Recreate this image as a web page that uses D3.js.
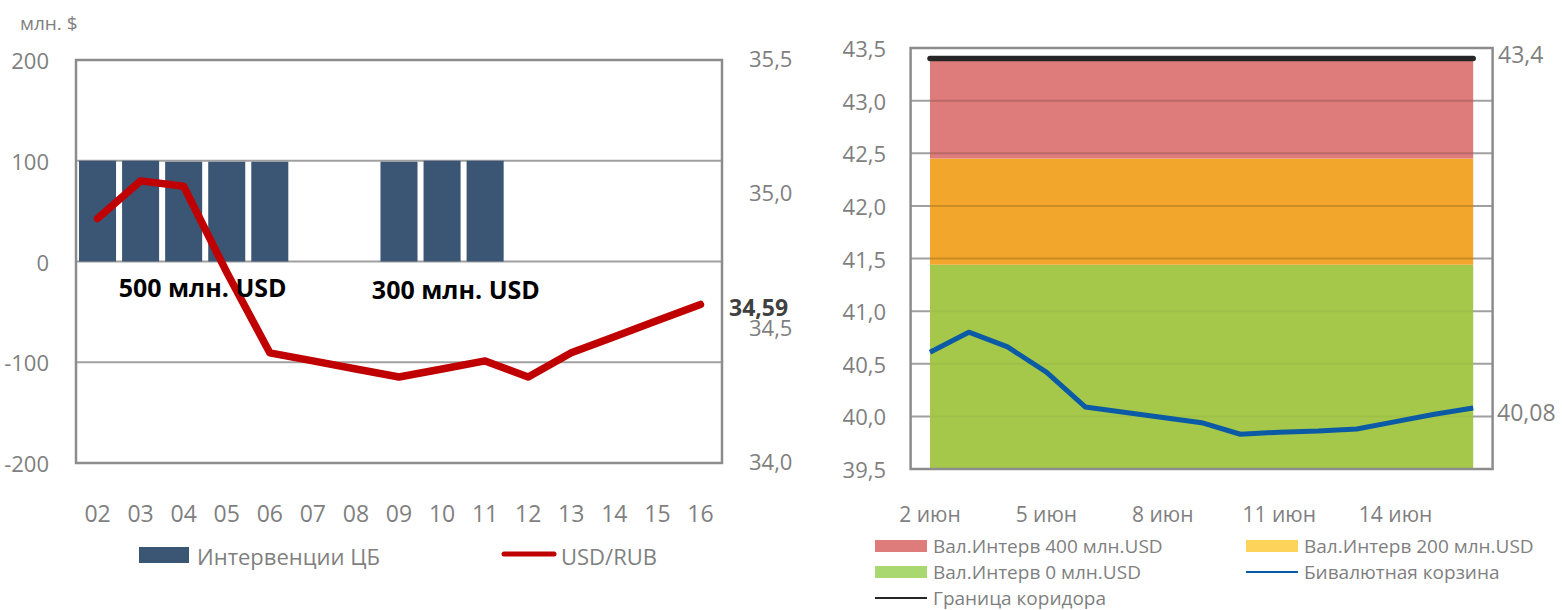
<!DOCTYPE html>
<html>
<head>
    <meta charset="utf-8">
    <title>Интервенции ЦБ и бивалютная корзина</title>
    <script src="https://d3js.org/d3.v7.min.js" charset="utf-8"></script>
    <style>
        html, body { margin: 0; padding: 0; background: #fff; }
        text { font-family: "Open Sans", "Liberation Sans", sans-serif; }
    </style>
</head>
<body>
<script>
    // ---- data: left chart (June, days) ----
    const days = ["02", "03", "04", "05", "06", "07", "08", "09", "10", "11", "12", "13", "14", "15", "16"];
    const interventions = [100, 100, 99, 99, 99, 0, 0, 99, 100, 100, 0, 0, 0, 0, 0];
    const usdRub = [34.91, 35.05, 35.03, 34.71, 34.41, 34.38, 34.35, 34.32, 34.35, 34.38, 34.32, 34.41, 34.47, 34.53, 34.59];
    const leftTicks = [200, 100, 0, -100, -200];
    const rightTicks = [35.5, 35.0, 34.5, 34.0];
    const annotations = ["500 млн. USD", "300 млн. USD"];
    const annotationPos = [2.94, 8.82]; // position of text centre, in bands from the left

    // ---- data: right chart ----
    const dates = ["2 июн", "3 июн", "4 июн", "5 июн", "6 июн", "7 июн", "8 июн", "9 июн", "10 июн", "11 июн", "12 июн", "13 июн", "14 июн", "15 июн", "16 июн"];
    const dateTicks = ["2 июн", "5 июн", "8 июн", "11 июн", "14 июн"];
    const zone0 = [41.44, 41.44, 41.44, 41.44, 41.44, 41.44, 41.44, 41.44, 41.44, 41.44, 41.44, 41.44, 41.44, 41.44, 41.44];
    const zone200 = [42.45, 42.45, 42.45, 42.45, 42.45, 42.45, 42.45, 42.45, 42.45, 42.45, 42.45, 42.45, 42.45, 42.45, 42.45];
    const zone400 = [43.39, 43.39, 43.39, 43.39, 43.39, 43.39, 43.39, 43.39, 43.39, 43.39, 43.39, 43.39, 43.39, 43.39, 43.39];
    const corridor = [43.4, 43.4, 43.4, 43.4, 43.4, 43.4, 43.4, 43.4, 43.4, 43.4, 43.4, 43.4, 43.4, 43.4, 43.4];
    const basket = [40.61, 40.80, 40.66, 40.42, 40.09, 40.04, 39.99, 39.94, 39.83, 39.85, 39.86, 39.88, 39.95, 40.02, 40.08];
    const basketTicks = [43.5, 43.0, 42.5, 42.0, 41.5, 41.0, 40.5, 40.0, 39.5];

    const gray = "#7f7f7f";
    const gridColor = "#a0a0a0";
    const comma = (v, n) => v.toFixed(n).replace(".", ",");

    const svg = d3.select("body").append("svg")
        .attr("width", 1562)
        .attr("height", 610);

    // ================= LEFT CHART =================
    const L = { left: 76, right: 722, top: 60, bottom: 463 };

    const x = d3.scaleBand()
        .domain(days)
        .range([L.left, L.right])
        .paddingInner(0.14)
        .paddingOuter(0.07);
    const xIdx = d3.scaleLinear().domain([0, days.length]).range([L.left, L.right]);
    const yL = d3.scaleLinear().domain([-200, 200]).range([L.bottom, L.top]);
    const yR = d3.scaleLinear().domain([34, 35.5]).range([L.bottom, L.top]);

    const left = svg.append("g");

    // gridlines
    left.selectAll(".grid")
        .data(leftTicks.slice(1, -1))
        .enter().append("line")
        .attr("x1", L.left).attr("x2", L.right)
        .attr("y1", d => yL(d)).attr("y2", d => yL(d))
        .attr("stroke", gridColor).attr("stroke-width", 2);

    // bars
    left.selectAll(".bar")
        .data(days.map((d, i) => ({ day: d, v: interventions[i] })).filter(d => d.v !== 0))
        .enter().append("rect")
        .attr("x", d => x(d.day))
        .attr("width", x.bandwidth())
        .attr("y", d => yL(d.v))
        .attr("height", d => yL(0) - yL(d.v))
        .attr("fill", "#3b5575");

    // frame
    left.append("rect")
        .attr("x", L.left).attr("y", L.top)
        .attr("width", L.right - L.left).attr("height", L.bottom - L.top)
        .attr("fill", "none").attr("stroke", "#8c8c8c").attr("stroke-width", 2.5);

    // USD/RUB line
    const rubLine = d3.line()
        .x((d, i) => x(days[i]) + x.bandwidth() / 2)
        .y(d => yR(d));
    left.append("path")
        .datum(usdRub)
        .attr("d", rubLine)
        .attr("fill", "none")
        .attr("stroke", "#c00000")
        .attr("stroke-width", 7.5)
        .attr("stroke-linejoin", "round")
        .attr("stroke-linecap", "round");

    // annotations
    left.selectAll(".ann")
        .data(annotations)
        .enter().append("text")
        .attr("x", (d, i) => xIdx(annotationPos[i]))
        .attr("y", (d, i) => yL(-25 - i * 2))
        .attr("text-anchor", "middle")
        .attr("dominant-baseline", "central")
        .attr("font-size", 25)
        .attr("font-weight", "bold")
        .attr("fill", "#000")
        .text(d => d);

    // left axis
    left.selectAll(".ytl")
        .data(leftTicks)
        .enter().append("text")
        .attr("x", 49).attr("y", d => yL(d))
        .attr("text-anchor", "end")
        .attr("dominant-baseline", "central")
        .attr("font-size", 22).attr("fill", gray)
        .text(d => String(d));

    // right axis
    left.selectAll(".ytr")
        .data(rightTicks)
        .enter().append("text")
        .attr("x", 749).attr("y", d => yR(d) - 2)
        .attr("dominant-baseline", "central")
        .attr("font-size", 22).attr("fill", gray)
        .text(d => comma(d, 1));

    // last value label
    left.append("text")
        .attr("x", 729).attr("y", yR(usdRub[usdRub.length - 1]) + 3)
        .attr("dominant-baseline", "central")
        .attr("font-size", 23).attr("font-weight", "bold").attr("fill", "#404040")
        .text(comma(usdRub[usdRub.length - 1], 2));

    // x axis labels
    left.selectAll(".xt")
        .data(days)
        .enter().append("text")
        .attr("x", d => x(d) + x.bandwidth() / 2)
        .attr("y", 513)
        .attr("text-anchor", "middle")
        .attr("dominant-baseline", "central")
        .attr("font-size", 23).attr("fill", gray)
        .text(d => d);

    // unit label
    left.append("text")
        .attr("x", 20).attr("y", 23)
        .attr("dominant-baseline", "central")
        .attr("font-size", 19).attr("fill", gray)
        .text("млн. $");

    // legend
    left.append("rect")
        .attr("x", 139).attr("y", 547).attr("width", 50).attr("height", 16)
        .attr("fill", "#3b5575");
    left.append("text")
        .attr("x", 197).attr("y", 556)
        .attr("dominant-baseline", "central")
        .attr("font-size", 22).attr("fill", gray)
        .text("Интервенции ЦБ");
    left.append("line")
        .attr("x1", 504).attr("x2", 554).attr("y1", 554).attr("y2", 554)
        .attr("stroke", "#c00000").attr("stroke-width", 5).attr("stroke-linecap", "round");
    left.append("text")
        .attr("x", 561).attr("y", 556)
        .attr("dominant-baseline", "central")
        .attr("font-size", 22).attr("fill", gray)
        .text("USD/RUB");

    // ================= RIGHT CHART =================
    const R = { left: 910.6, right: 1492.6, top: 48, bottom: 469 };

    const xr = d3.scalePoint()
        .domain(dates)
        .range([R.left, R.right])
        .padding(0.5);
    const yr = d3.scaleLinear().domain([39.5, 43.5]).range([R.bottom, R.top]);

    const right = svg.append("g");

    // gridlines (under areas)
    right.selectAll(".grid")
        .data(basketTicks.slice(1, -1))
        .enter().append("line")
        .attr("x1", R.left).attr("x2", R.right)
        .attr("y1", d => yr(d)).attr("y2", d => yr(d))
        .attr("stroke", gridColor).attr("stroke-width", 2);

    // stacked zones
    const zones = [
        { lo: null, hi: zone0, color: "#a5c84b" },
        { lo: zone0, hi: zone200, color: "#f2a72c" },
        { lo: zone200, hi: zone400, color: "#de7c7c" }
    ];
    const zoneArea = z => d3.area()
        .x((d, i) => xr(dates[i]))
        .y0((d, i) => z.lo ? yr(z.lo[i]) : yr(39.5))
        .y1((d, i) => yr(z.hi[i]))(z.hi);
    right.selectAll(".zone")
        .data(zones)
        .enter().append("path")
        .attr("d", zoneArea)
        .attr("fill", d => d.color);

    // gridlines showing through zones
    right.selectAll(".grid2")
        .data(basketTicks.slice(1, -1))
        .enter().append("line")
        .attr("x1", xr(dates[0])).attr("x2", xr(dates[dates.length - 1]))
        .attr("y1", d => yr(d)).attr("y2", d => yr(d))
        .attr("stroke", "#000").attr("stroke-opacity", d => d < 41.4 ? 0.04 : 0.16).attr("stroke-width", 2);

    // frame
    right.append("rect")
        .attr("x", R.left).attr("y", R.top)
        .attr("width", R.right - R.left).attr("height", R.bottom - R.top)
        .attr("fill", "none").attr("stroke", "#8c8c8c").attr("stroke-width", 2.5);

    const ptLine = d3.line()
        .x((d, i) => xr(dates[i]))
        .y(d => yr(d));

    // corridor boundary
    right.append("path")
        .datum(corridor)
        .attr("d", ptLine)
        .attr("fill", "none")
        .attr("stroke", "#262626").attr("stroke-width", 5.5)
        .attr("stroke-linecap", "round");

    // basket line
    right.append("path")
        .datum(basket)
        .attr("d", ptLine)
        .attr("fill", "none")
        .attr("stroke", "#0b5aa5").attr("stroke-width", 5)
        .attr("stroke-linejoin", "round");

    // left axis
    right.selectAll(".yt")
        .data(basketTicks)
        .enter().append("text")
        .attr("x", 886).attr("y", d => yr(d))
        .attr("text-anchor", "end")
        .attr("dominant-baseline", "central")
        .attr("font-size", 22).attr("fill", gray)
        .text(d => comma(d, 1));

    // end labels
    right.append("text")
        .attr("x", 1498).attr("y", yr(corridor[corridor.length - 1]) - 5)
        .attr("dominant-baseline", "central")
        .attr("font-size", 23).attr("fill", gray)
        .text(comma(corridor[corridor.length - 1], 1));
    right.append("text")
        .attr("x", 1497).attr("y", yr(basket[basket.length - 1]) + 4)
        .attr("dominant-baseline", "central")
        .attr("font-size", 23).attr("fill", gray)
        .text(comma(basket[basket.length - 1], 2));

    // x axis labels
    right.selectAll(".xt")
        .data(dateTicks)
        .enter().append("text")
        .attr("x", d => xr(d))
        .attr("y", 514)
        .attr("text-anchor", "middle")
        .attr("dominant-baseline", "central")
        .attr("font-size", 21).attr("fill", gray)
        .text(d => d);

    // legend
    const legend = [
        { label: "Вал.Интерв 400 млн.USD", type: "rect", color: "#de7c7c", x: 875, y: 546 },
        { label: "Вал.Интерв 200 млн.USD", type: "rect", color: "#fdd35a", x: 1246, y: 546 },
        { label: "Вал.Интерв 0 млн.USD", type: "rect", color: "#a9d870", x: 875, y: 572 },
        { label: "Бивалютная корзина", type: "line", color: "#0b5aa5", x: 1246, y: 572 },
        { label: "Граница коридора", type: "line", color: "#262626", x: 875, y: 598 }
    ];
    const lg = right.selectAll(".lg")
        .data(legend)
        .enter().append("g")
        .attr("transform", d => `translate(${d.x},${d.y})`);
    lg.filter(d => d.type === "rect").append("rect")
        .attr("x", 0).attr("y", -6).attr("width", 52).attr("height", 12)
        .attr("fill", d => d.color);
    lg.filter(d => d.type === "line").append("line")
        .attr("x1", 0).attr("x2", 52).attr("y1", 0).attr("y2", 0)
        .attr("stroke", d => d.color).attr("stroke-width", 2.2);
    lg.append("text")
        .attr("x", 58).attr("y", 0)
        .attr("dominant-baseline", "central")
        .attr("font-size", 19).attr("fill", gray)
        .text(d => d.label);
</script>
</body>
</html>
